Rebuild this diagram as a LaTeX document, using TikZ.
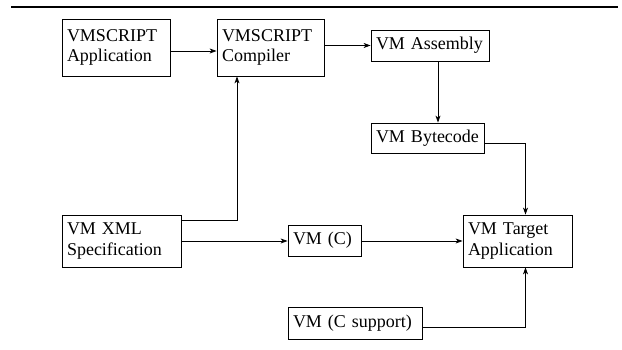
\documentclass[tikz,border=0pt]{standalone}
\usepackage{fontspec}
\setmainfont{Liberation Serif}
\usetikzlibrary{arrows.meta}
\begin{document}
\begin{tikzpicture}[x=1pt,y=1pt,
  box/.style={draw, line width=0.8pt, rectangle, inner xsep=5pt, inner ysep=0pt, align=left,
    font=\fontsize{18}{20.5}\selectfont},
  conn/.style={line width=0.8pt, -{Stealth[length=7pt,width=5pt,inset=2pt]}},
  rule/.style={line width=1.2pt}]
\useasboundingbox (0,0) rectangle (622,350);
% top rule
\coordinate (r1) at (11,343);
\coordinate (r2) at (618,343);
\draw[rule] (r1) -- (r2);
% boxes
\node[box, text width=98pt, minimum height=57pt] (app) at (116,302.5) {VMSCRIPT\\Application};
\node[box, text width=97pt, minimum height=57pt] (comp) at (270.5,302.5) {VMSCRIPT\\Compiler};
\node[box, text width=108pt, minimum height=31pt] (asm) at (430,304.5) {VM Assembly};
\node[box, text width=103pt, minimum height=30pt] (byte) at (427.5,212) {VM Bytecode};
\node[box, text width=109pt, minimum height=52pt] (xml) at (121.5,109) {VM XML\\Specification};
\node[box, text width=63pt, minimum height=31pt] (vmc) at (324.5,109.5) {VM (C)};
\node[box, text width=99pt, minimum height=52pt] (target) at (517.5,109) {VM Target\\Application};
\node[box, text width=124pt, minimum height=32pt] (csup) at (355,27) {VM (C support)};
% helper coordinates
\coordinate (ya) at (0,299);
\coordinate (yb) at (0,207);
\coordinate (yc) at (0,130);
\coordinate (yd) at (0,109);
\coordinate (ye) at (0,23);
\coordinate (xa) at (438,0);
\coordinate (xb) at (525.5,0);
\coordinate (xc) at (237,0);
% connectors
\draw[conn] (app.east |- ya) -- (comp.west |- ya);
\draw[conn] (comp.east |- asm.west) -- (asm.west);
\draw[conn] (asm.south -| xa) -- (byte.north -| xa);
\draw[conn] (byte.east |- yb) -| (target.north -| xb);
\draw[conn] (xml.east |- yc) -| (comp.south -| xc);
\draw[conn] (xml.east |- yd) -- (vmc.west |- yd);
\draw[conn] (vmc.east |- yd) -- (target.west |- yd);
\draw[conn] (csup.east |- ye) -| (target.south -| xb);
\end{tikzpicture}
\end{document}
